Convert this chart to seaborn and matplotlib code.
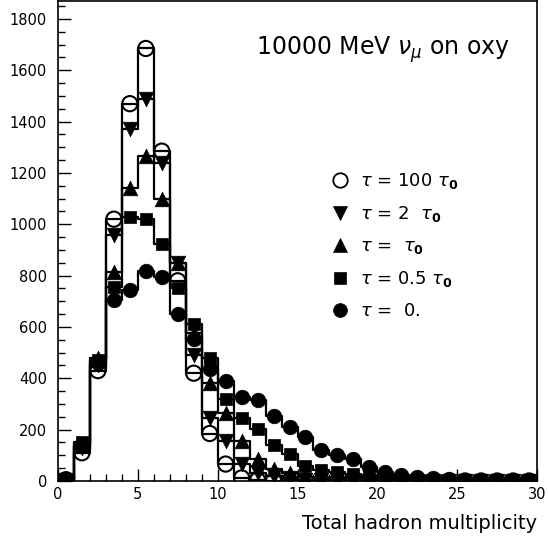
import numpy as np
import pandas as pd
import matplotlib
matplotlib.use("Agg")
import matplotlib.pyplot as plt
from matplotlib.lines import Line2D
import seaborn as sns

# ---------------- data ----------------
bin_edges = list(range(0, 31))
bin_centers = [b + 0.5 for b in range(30)]

tau_100 = [5, 110, 430, 1020, 1470, 1685, 1285, 780, 420, 185, 66, 12, 3, 1, 0,
           0, 0, 0, 0, 0, 0, 0, 0, 0, 0, 0, 0, 0, 0, 0]
tau_2 = [5, 130, 450, 960, 1370, 1490, 1240, 850, 490, 246, 156, 66, 31, 18, 10,
         5, 3, 2, 1, 1, 0, 0, 0, 0, 0, 0, 0, 0, 0, 0]
tau_1 = [5, 140, 480, 815, 1140, 1265, 1100, 850, 575, 383, 266, 156, 86, 47, 31,
         15, 8, 5, 3, 2, 1, 1, 0, 0, 0, 0, 0, 0, 0, 0]
tau_05 = [8, 150, 470, 755, 1030, 1020, 925, 750, 610, 481, 320, 246, 203, 141, 105,
          59, 43, 35, 27, 20, 15, 10, 6, 4, 3, 2, 2, 1, 1, 1]
tau_0 = [5, 140, 460, 707, 746, 820, 793, 652, 554, 437, 391, 328, 316, 254, 211,
         172, 121, 102, 86, 55, 36, 23, 16, 10, 7, 5, 4, 3, 2, 2]

series_labels = [r"$\tau$ = 100 $\tau_{\mathbf{0}}$",
                 r"$\tau$ = 2  $\tau_{\mathbf{0}}$",
                 r"$\tau$ =  $\tau_{\mathbf{0}}$",
                 r"$\tau$ = 0.5 $\tau_{\mathbf{0}}$",
                 r"$\tau$ =  0."]
series_values = [tau_100, tau_2, tau_1, tau_05, tau_0]

title_text = r"10000 MeV $\nu_{\mu}$ on oxy"
xlabel_text = "Total hadron multiplicity"

# ---------------- styling ----------------
sns.set_style("ticks")
plt.rcParams["font.family"] = ["DejaVu Sans"]
plt.rcParams["mathtext.fontset"] = "dejavusans"
for key in ["text.color", "axes.labelcolor", "xtick.color", "ytick.color",
            "axes.edgecolor"]:
    plt.rcParams[key] = "black"

markers = ["o", "v", "^", "s", "o"]
filled = [False, True, True, True, True]
msize = [120, 110, 110, 85, 110]

fig = plt.figure(figsize=(5.48, 5.37), dpi=100)
ax = fig.add_axes([58 / 548, 1 - 481 / 537, 479 / 548, 480 / 537])

for vals, mk, fl, s in zip(series_values, markers, filled, msize):
    df = pd.DataFrame({"x": bin_centers, "w": vals})
    sns.histplot(data=df, x="x", weights="w", bins=bin_edges, element="step",
                 fill=False, color="black", linewidth=1.6, ax=ax)
    sns.scatterplot(data=df, x="x", y="w", marker=mk, s=s,
                    facecolor=("black" if fl else "none"), edgecolor="black",
                    linewidth=(0.5 if fl else 1.5), ax=ax, zorder=4, legend=False)

ax.set_xlim(0, 30)
ax.set_ylim(0, 1870)
ax.set_xticks(range(0, 31, 5))
ax.set_xticks(range(0, 31, 1), minor=True)
ax.set_yticks(range(0, 1801, 200))
ax.set_yticks(range(0, 1851, 50), minor=True)
ax.tick_params(axis="both", which="major", direction="in", length=9, width=1,
               labelsize=10.5, color="black", labelcolor="black")
ax.tick_params(axis="both", which="minor", direction="in", length=5, width=1,
               color="black")
ax.tick_params(axis="x", pad=4)
ax.tick_params(axis="y", pad=8)
for sp in ax.spines.values():
    sp.set_visible(True)
    sp.set_linewidth(1.2)
    sp.set_color("black")

ax.set_xlabel("")
ax.set_ylabel("")
fig.text(537 / 548, 1 - 529 / 537, xlabel_text, ha="right", va="baseline",
         fontsize=14, color="black")
ax.text(0.944, 0.887, title_text, transform=ax.transAxes, ha="right",
        va="baseline", fontsize=17, color="black")

handles = [Line2D([], [], linestyle="none", marker=mk,
                  markerfacecolor=("black" if fl else "none"),
                  markeredgecolor="black", markeredgewidth=(0.5 if fl else 1.3),
                  markersize=(np.sqrt(s) * 0.95))
           for mk, fl, s in zip(markers, filled, msize)]
leg = ax.legend(handles, series_labels, loc="upper left",
                bbox_to_anchor=(0.555, 0.66), frameon=False, fontsize=13,
                labelspacing=0.72, handletextpad=0.6, handlelength=1.0,
                borderaxespad=0)
for t in leg.get_texts():
    t.set_color("black")

fig.savefig("out.png", dpi=100)
